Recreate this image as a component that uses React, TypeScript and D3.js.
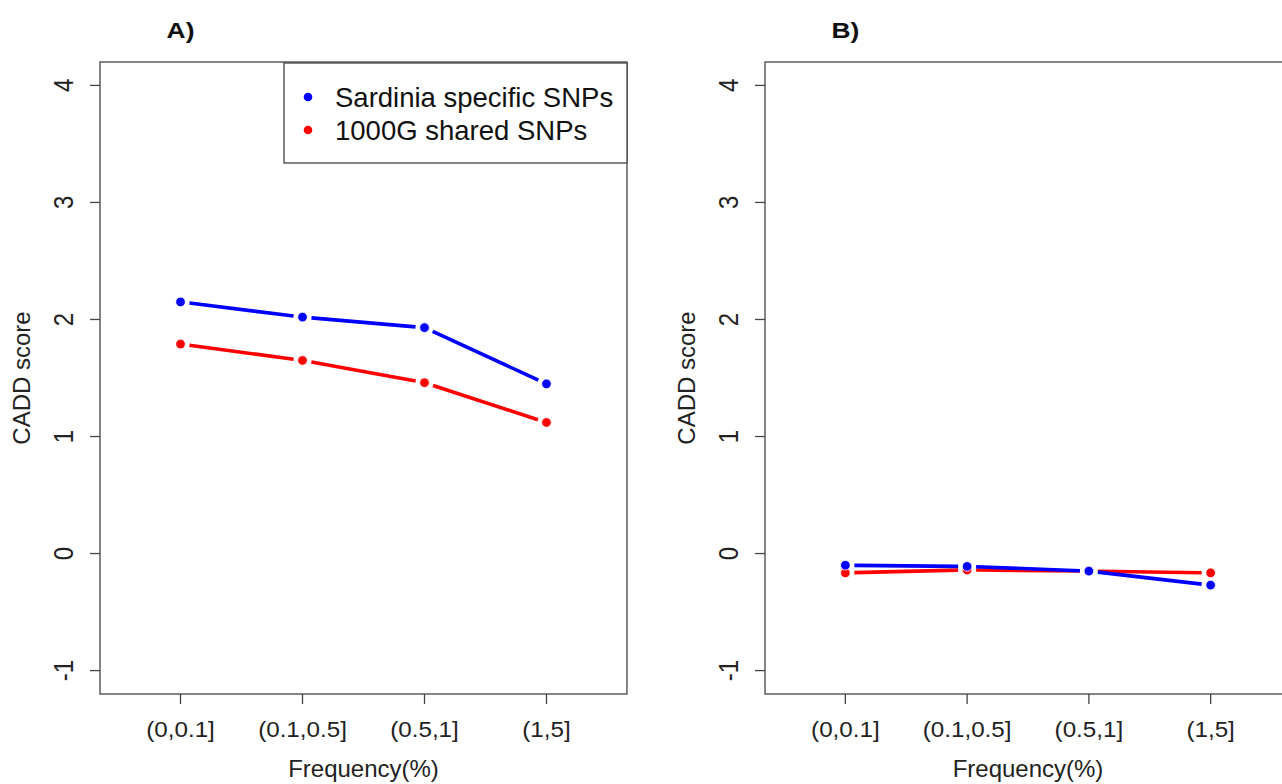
import React from "react";
import * as d3 from "d3";

const categories = ["(0,0.1]", "(0.1,0.5]", "(0.5,1]", "(1,5]"];
const panelTitles = ["A)", "B)"];
const yTicks = [-1, 0, 1, 2, 3, 4];
const seriesNames = ["Sardinia specific SNPs", "1000G shared SNPs"];
const seriesColors = ["#0000ff", "#ff0000"];
const sardiniaA = [2.15, 2.02, 1.93, 1.45];
const sharedA = [1.79, 1.65, 1.46, 1.12];
const sardiniaB = [-0.1, -0.11, -0.15, -0.27];
const sharedB = [-0.165, -0.14, -0.15, -0.165];

const W = 1282;
const H = 784;
const FONT = "'Liberation Sans', Arial, Helvetica, sans-serif";

type Panel = { left: number; right: number; title: string; blue: number[]; red: number[]; legend: boolean };

const panels: Panel[] = [
  { left: 100, right: 627, title: panelTitles[0], blue: sardiniaA, red: sharedA, legend: true },
  { left: 765, right: 1291, title: panelTitles[1], blue: sardiniaB, red: sharedB, legend: false },
];

const TOP = 62;
const BOTTOM = 694;

function segments(pts: [number, number][], gap: number) {
  const out: string[] = [];
  for (let i = 0; i < pts.length - 1; i++) {
    const [x1, y1] = pts[i];
    const [x2, y2] = pts[i + 1];
    const dx = x2 - x1, dy = y2 - y1;
    const len = Math.sqrt(dx * dx + dy * dy);
    const ux = dx / len, uy = dy / len;
    out.push(`M${x1 + ux * gap},${y1 + uy * gap}L${x2 - ux * gap},${y2 - uy * gap}`);
  }
  return out;
}

function PanelView({ p }: { p: Panel }) {
  const x = d3.scaleLinear().domain([0.34, 4.66]).range([p.left, p.right]);
  const y = d3.scaleLinear().domain([-1.2, 4.2]).range([BOTTOM, TOP]);
  const series = [
    { vals: p.red, color: seriesColors[1] },
    { vals: p.blue, color: seriesColors[0] },
  ];
  const midX = (p.left + p.right) / 2;
  const axisColor = "#444";
  return (
    <g>
      <rect x={p.left} y={TOP} width={p.right - p.left} height={BOTTOM - TOP} fill="none" stroke={axisColor} strokeWidth={1.3} />
      {yTicks.map((t) => (
        <g key={t}>
          <line x1={p.left - 10} x2={p.left} y1={y(t)} y2={y(t)} stroke={axisColor} strokeWidth={1.3} />
          <text
            transform={`translate(${p.left - 27},${y(t)}) rotate(-90) scale(1,1.15)`}
            textAnchor="middle"
            fontSize={24}
            fill="#222"
            fontFamily={FONT}
          >
            {t}
          </text>
        </g>
      ))}
      {categories.map((c, i) => (
        <g key={c}>
          <line x1={x(i + 1)} x2={x(i + 1)} y1={BOTTOM} y2={BOTTOM + 10} stroke={axisColor} strokeWidth={1.3} />
          <text
            transform={`translate(${x(i + 1)},737) scale(1.1,1)`}
            textAnchor="middle"
            fontSize={22}
            fill="#222"
            fontFamily={FONT}
          >
            {c}
          </text>
        </g>
      ))}
      <text x={midX} y={777} textAnchor="middle" fontSize={24} fill="#222" fontFamily={FONT}>
        Frequency(%)
      </text>
      <text
        transform={`translate(${p.left - 70},${(TOP + BOTTOM) / 2}) rotate(-90)`}
        textAnchor="middle"
        fontSize={24}
        fill="#222"
        fontFamily={FONT}
      >
        CADD score
      </text>
      <text
        transform={`translate(${x(1)},38) scale(1.2,1)`}
        textAnchor="middle"
        fontSize={22}
        fontWeight="bold"
        fill="#111"
        fontFamily={FONT}
      >
        {p.title}
      </text>
      {series.map((s, si) => {
        const pts: [number, number][] = s.vals.map((v, i) => [x(i + 1), y(v)]);
        return (
          <g key={si}>
            {segments(pts, 9).map((d, k) => (
              <path key={k} d={d} stroke={s.color} strokeWidth={3.6} fill="none" />
            ))}
            {pts.map(([px, py], k) => (
              <circle key={k} cx={px} cy={py} r={4.8} fill={s.color} stroke="#fff" strokeWidth={0.8} />
            ))}
          </g>
        );
      })}
      {p.legend && (
        <g>
          <rect x={284} y={63} width={p.right - 284} height={100} fill="#fff" stroke={axisColor} strokeWidth={1.3} />
          {seriesNames.map((n, i) => (
            <g key={n}>
              <circle cx={308} cy={97 + i * 33} r={4.3} fill={seriesColors[i]} />
              <text x={335} y={107 + i * 33} fontSize={27.5} fill="#111" fontFamily={FONT}>
                {n}
              </text>
            </g>
          ))}
        </g>
      )}
    </g>
  );
}

export default function App() {
  return (
    <div style={{ position: "fixed", left: 0, top: 0 }}>
      <svg width={W} height={H} style={{ display: "block", background: "#fff" }}>
        <rect x={0} y={0} width={W} height={H} fill="#fff" />
        {panels.map((p, i) => (
          <PanelView key={i} p={p} />
        ))}
      </svg>
    </div>
  );
}
